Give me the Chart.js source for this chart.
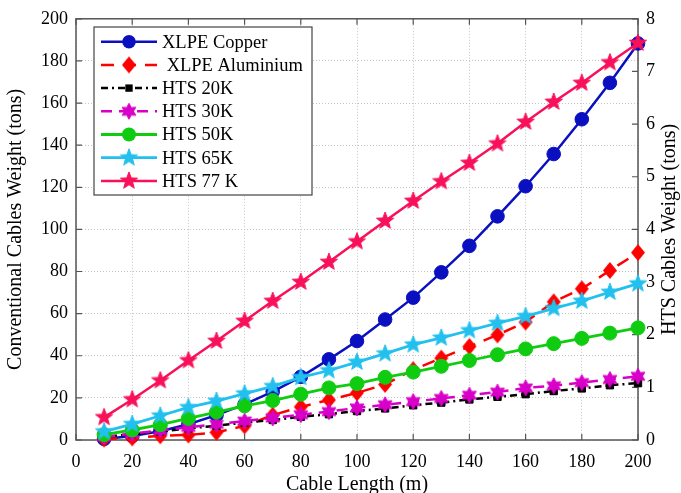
<!DOCTYPE html>
<html><head><meta charset="utf-8">
<script src="https://cdn.jsdelivr.net/npm/chart.js@4.4.1/dist/chart.umd.min.js"></script>
<style>html,body{margin:0;padding:0;background:#fff;overflow:hidden}#wrap{width:681px;height:493px;position:relative}</style>
</head><body><div id="wrap"><canvas id="c" width="681" height="493"></canvas></div>
<script>
// ---- data ----
const cableLength = [10,20,30,40,50,60,70,80,90,100,110,120,130,140,150,160,170,180,190,200];
// conventional cables, left axis (tons)
const xlpeCopper    = [0.5,1.9,4.2,7.5,11.8,16.9,23,30,38.3,47,57.2,67.6,79.6,92.2,106.2,120.5,135.8,152.3,169.6,188.3];
const xlpeAluminium = [0.5,1,2,2.4,3.6,6.7,11.8,15.7,19,22.4,26.4,33.4,38.9,44.4,49.9,56,65.6,71.8,80.5,89];
// HTS cables, right axis (tons)
const hts20K = [0.06,0.11,0.16,0.22,0.27,0.33,0.38,0.44,0.49,0.55,0.6,0.66,0.71,0.77,0.82,0.87,0.93,0.98,1.04,1.08];
const hts30K = [0.06,0.12,0.18,0.24,0.3,0.36,0.42,0.48,0.54,0.61,0.67,0.73,0.79,0.85,0.91,0.99,1.03,1.09,1.15,1.21];
const hts50K = [0.1,0.19,0.29,0.41,0.53,0.65,0.75,0.87,0.99,1.07,1.19,1.29,1.4,1.51,1.62,1.73,1.83,1.93,2.03,2.13];
const hts65K = [0.16,0.3,0.46,0.62,0.74,0.88,1.02,1.19,1.32,1.48,1.64,1.81,1.94,2.08,2.22,2.35,2.5,2.64,2.81,2.97];
const hts77K = [0.43,0.77,1.13,1.51,1.88,2.26,2.64,3.0,3.38,3.77,4.16,4.54,4.91,5.26,5.63,6.04,6.42,6.78,7.17,7.54];
const seriesNames = ['XLPE Copper',' XLPE Aluminium','HTS 20K','HTS 30K','HTS 50K','HTS 65K','HTS 77 K'];
const xTicks = [0,20,40,60,80,100,120,140,160,180,200];
const leftTicks = [0,20,40,60,80,100,120,140,160,180,200];
const rightTicks = [0,1,2,3,4,5,6,7,8];

const FONT = "'Liberation Serif','Times New Roman',serif";

function starImage(n, outer, ratio, color) {
  const s = Math.ceil(outer*2+2);
  const cv = document.createElement('canvas');
  cv.width = s; cv.height = s;
  const c = cv.getContext('2d');
  c.translate(s/2, s/2);
  c.beginPath();
  for (let i=0;i<n*2;i++){
    const r = i%2===0 ? outer : outer*ratio;
    const a = -Math.PI/2 + i*Math.PI/n;
    const px = r*Math.cos(a), py = r*Math.sin(a);
    if(i===0) c.moveTo(px,py); else c.lineTo(px,py);
  }
  c.closePath();
  c.fillStyle = color; c.fill();
  c.lineWidth = 1; c.strokeStyle = color; c.stroke();
  return cv;
}
function diamondImage(hw, hh, color){
  const w = Math.ceil(hw*2+2), h = Math.ceil(hh*2+2);
  const cv = document.createElement('canvas');
  cv.width = w; cv.height = h;
  const c = cv.getContext('2d');
  c.translate(w/2, h/2);
  c.beginPath(); c.moveTo(0,-hh); c.lineTo(hw,0); c.lineTo(0,hh); c.lineTo(-hw,0); c.closePath();
  c.fillStyle = color; c.fill();
  return cv;
}

const C = {
  blue:'#0a10bf', red:'#ff0000', black:'#000000', magenta:'#d800c8',
  green:'#10cc10', cyan:'#22c0ee', pink:'#f8105a'
};
const img30 = starImage(6, 8, 0.55, C.magenta);
const img65 = starImage(5, 9, 0.42, C.cyan);
const img77 = starImage(5, 9, 0.42, C.pink);
const imgDia = diamondImage(7, 8.5, C.red);

const styles = [
  {color:C.blue, dash:[], point:'circle', r:6.8, yAxisID:'y', width:2.5},
  {color:C.red, dash:[13,9], point:imgDia, r:8, yAxisID:'y', width:2.5},
  {color:C.black, dash:[7,4,2,4], point:'rect', r:5.2, yAxisID:'y1', width:2.5},
  {color:C.magenta, dash:[11,7], point:img30, r:8, yAxisID:'y1', width:2.5},
  {color:C.green, dash:[], point:'circle', r:7, yAxisID:'y1', width:2.8},
  {color:C.cyan, dash:[], point:img65, r:9, yAxisID:'y1', width:2.8},
  {color:C.pink, dash:[], point:img77, r:9, yAxisID:'y1', width:2.5}
];
const values = [xlpeCopper, xlpeAluminium, hts20K, hts30K, hts50K, hts65K, hts77K];

const datasets = values.map((v,i)=>({
  label: seriesNames[i],
  data: v.map((y,k)=>({x:cableLength[k], y:y})),
  yAxisID: styles[i].yAxisID,
  borderColor: styles[i].color,
  backgroundColor: styles[i].color,
  borderWidth: styles[i].width,
  borderDash: styles[i].dash,
  pointStyle: styles[i].point,
  pointRadius: styles[i].r,
  pointBorderWidth: 1,
  pointBorderColor: styles[i].color,
  pointBackgroundColor: styles[i].color,
  tension: 0,
  clip: false,
  order: 20 - i
}));

function drawMarker(ctx, st, x, y){
  const p = st.point, r = st.r;
  ctx.fillStyle = st.color;
  if (typeof p !== 'string') { ctx.drawImage(p, x - p.width/2, y - p.height/2); return; }
  ctx.beginPath();
  if (p === 'circle') ctx.arc(x, y, r, 0, Math.PI*2);
  else if (p === 'rect') { const h = r*Math.SQRT1_2; ctx.rect(x-h, y-h, 2*h, 2*h); }
  ctx.fill();
}

const decor = {
  id:'decor',
  beforeDatasetsDraw(chart){
    const ctx = chart.ctx, a = chart.chartArea;
    const xs = chart.scales.x, yl = chart.scales.y, yr = chart.scales.y1;
    ctx.save();
    ctx.strokeStyle = '#555'; ctx.lineWidth = 1.5; ctx.setLineDash([]);
    ctx.strokeRect(a.left, a.top, a.right-a.left, a.bottom-a.top);
    ctx.lineWidth = 1.2;
    ctx.beginPath();
    const tl = 6;
    xTicks.forEach(t=>{ const px = xs.getPixelForValue(t);
      ctx.moveTo(px,a.bottom); ctx.lineTo(px,a.bottom-tl);
      ctx.moveTo(px,a.top); ctx.lineTo(px,a.top+tl); });
    leftTicks.forEach(t=>{ const py = yl.getPixelForValue(t);
      ctx.moveTo(a.left,py); ctx.lineTo(a.left+tl,py); });
    rightTicks.forEach(t=>{ const py = yr.getPixelForValue(t);
      ctx.moveTo(a.right,py); ctx.lineTo(a.right-tl,py); });
    ctx.stroke();
    ctx.restore();
  },
  afterDraw(chart){
    const ctx = chart.ctx, a = chart.chartArea;
    ctx.save();
    ctx.fillStyle = '#000';
    ctx.font = '20px ' + FONT;
    ctx.textAlign = 'center';
    ctx.textBaseline = 'middle';
    ctx.fillText('Cable Length (m)', (a.left+a.right)/2, 485);
    ctx.save();
    ctx.translate(16, (a.top+a.bottom)/2);
    ctx.rotate(-Math.PI/2);
    ctx.fillText('Conventional Cables Weight (tons)', 0, 0);
    ctx.restore();
    ctx.save();
    ctx.translate(670, (a.top+a.bottom)/2);
    ctx.rotate(-Math.PI/2);
    ctx.fillText('HTS Cables Weight (tons)', 0, 0);
    ctx.restore();
    // legend
    const bx = 94, by = 27, bw = 218, bh = 168;
    ctx.fillStyle = '#fff';
    ctx.fillRect(bx,by,bw,bh);
    ctx.strokeStyle = '#444'; ctx.lineWidth = 1.2;
    ctx.strokeRect(bx,by,bw,bh);
    ctx.font = '18.5px ' + FONT;
    ctx.textAlign = 'left';
    ctx.textBaseline = 'middle';
    for (let i=0;i<7;i++){
      const cy = 41.7 + i*23.2;
      const st = styles[i];
      ctx.strokeStyle = st.color; ctx.lineWidth = st.width;
      ctx.setLineDash(st.dash);
      ctx.beginPath(); ctx.moveTo(101,cy); ctx.lineTo(157,cy); ctx.stroke();
      ctx.setLineDash([]);
      drawMarker(ctx, st, 129, cy);
      ctx.fillStyle = '#000';
      ctx.fillText(seriesNames[i], 162, cy+1);
    }
    ctx.restore();
  }
};

new Chart(document.getElementById('c'), {
  type:'line',
  data:{ datasets },
  plugins:[decor],
  options:{
    responsive:false, animation:false, devicePixelRatio:1,
    layout:{ padding:{ top:16, left:0, right:0, bottom:0 } },
    plugins:{ legend:{display:false}, tooltip:{enabled:false} },
    scales:{
      x:{ type:'linear', min:0, max:200,
        afterBuildTicks(s){ s.ticks = xTicks.map(v=>({value:v})); },
        afterFit(s){ s.height = 53; },
        grid:{ color:'#c4c4c4', lineWidth:1, drawTicks:false, borderDash:[1,2] },
        border:{ display:false, dash:[1,2] },
        ticks:{ padding:11, color:'#000', font:{family:FONT, size:18}, maxRotation:0 }
      },
      y:{ type:'linear', position:'left', min:0, max:200,
        afterBuildTicks(s){ s.ticks = leftTicks.map(v=>({value:v})); },
        afterFit(s){ s.width = 76; },
        grid:{ color:'#c4c4c4', lineWidth:1, drawTicks:false },
        border:{ display:false, dash:[1,2] },
        ticks:{ padding:8, color:'#000', font:{family:FONT, size:18} }
      },
      y1:{ type:'linear', position:'right', min:0, max:8,
        afterBuildTicks(s){ s.ticks = rightTicks.map(v=>({value:v})); },
        afterFit(s){ s.width = 43; },
        grid:{ display:false, drawTicks:false },
        border:{ display:false },
        ticks:{ padding:8, color:'#000', font:{family:FONT, size:18} }
      }
    }
  }
});
</script></body></html>
